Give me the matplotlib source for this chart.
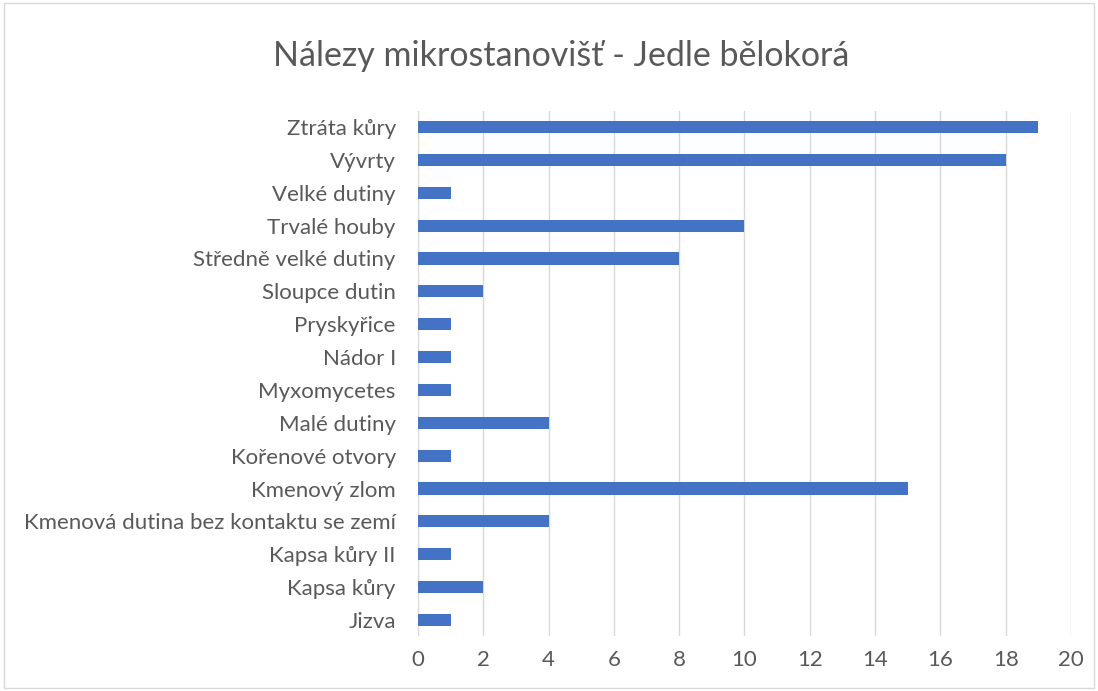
import matplotlib
matplotlib.use('Agg')
import matplotlib.pyplot as plt
from matplotlib.patches import Rectangle

plt.rcParams['font.family'] = ['Lato', 'DejaVu Sans']

# categories from bottom to top
categories = ['Jizva', 'Kapsa kůry', 'Kapsa kůry II',
              'Kmenová dutina bez kontaktu se zemí', 'Kmenový zlom',
              'Kořenové otvory', 'Malé dutiny', 'Myxomycetes', 'Nádor I',
              'Pryskyřice', 'Sloupce dutin', 'Středně velké dutiny',
              'Trvalé houby', 'Velké dutiny', 'Vývrty', 'Ztráta kůry']
counts = [1, 2, 1, 4, 15, 1, 4, 1, 1, 1, 2, 8, 10, 1, 18, 19]
xticks = [0, 2, 4, 6, 8, 10, 12, 14, 16, 18, 20]

text_col = '#595959'
fig = plt.figure(figsize=(10.98, 6.91), dpi=100)
ax = fig.add_axes([0.3807, 0.079, 0.5947, 0.761])

ax.barh(range(len(categories)), counts, height=0.37, color='#4472C4', zorder=3)
ax.set_xlim(0, 20)
ax.set_ylim(-0.5, len(categories) - 0.5)
ax.set_xticks(xticks)
ax.set_yticks(range(len(categories)))
ax.set_yticklabels(categories)
ax.grid(axis='x', color='#D9D9D9', linewidth=1, zorder=0)
for s in ax.spines.values():
    s.set_visible(False)
ax.tick_params(axis='both', length=0, labelsize=16, colors=text_col)
ax.tick_params(axis='y', pad=16)
ax.tick_params(axis='x', pad=10)

fig.suptitle('Nálezy mikrostanovišť - Jedle bělokorá', x=0.511, y=0.942,
             fontsize=24.5, color=text_col)

fig.patches.append(Rectangle((0.004, 0.004), 0.992, 0.992, transform=fig.transFigure,
                             fill=False, edgecolor='#D9D9D9', linewidth=1))

fig.savefig('out.png', dpi=100)
